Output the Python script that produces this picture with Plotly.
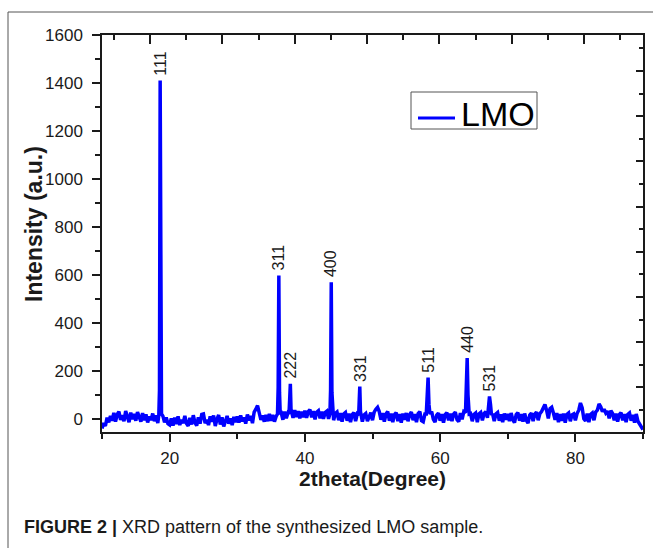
import numpy as np
import plotly.graph_objects as go

# Background counts on a 0.25 degree grid from 10 to 90 degrees 2theta
theta_start = 10.0
theta_step = 0.25
background = [
    # 10.00 - 14.75
    -40, -18, -30, 5, -15, 12, -8, 25, -12, 18, 30, -5, 15, -10, 32, 8, -14, 26, -2, 20,
    # 15.00 - 19.75
    -8, 28, 2, -12, 24, -6, 18, -15, 10, -5, 22, -10, 14, -18, 20, -8, 12, -15, 6, -20,
    # 20.00 - 24.75
    -25, 2, -28, 5, -22, 10, -26, -4, -18, 12, -20, -30, 4, -24, 15, -16, -28, 6, -20, 18,
    # 25.00 - 29.75
    20, -18, -4, -26, 10, -12, 14, -30, -2, 16, -24, 6, -32, -8, 12, -20, 2, -26, 8, -14,
    # 30.00 - 34.75
    10, -16, 14, -10, 6, -20, 18, -6, 12, -18, 28, 40, 55, 25, -4, 14, -12, 16, -10, 20,
    # 35.00 - 39.75
    -8, 16, -12, 10, 8, 12, 26, -4, 30, 2, 24, 20, 30, 4, 36, 8, 32, 2, 30, 6,
    # 40.00 - 44.75
    34, 4, 30, 38, 6, 32, -2, 28, 34, 2, 30, 0, 26, 32, 0, 20, 24, -6, 22, 28,
    # 45.00 - 49.75
    -6, 24, -12, 20, 26, -8, 22, -14, 18, 26, -10, 20, -4, 24, -12, 16, 22, -10, 14, 26,
    # 50.00 - 54.75
    -6, 28, 40, 48, 30, -4, 24, -12, 20, 30, -8, 22, -14, 18, 26, -10, 20, -16, 22, -4,
    # 55.00 - 59.75
    24, -10, 18, 28, -6, 20, -14, 22, 30, -8, -12, 20, 26, -6, 22, 30, -2, -14, 16, 24,
    # 60.00 - 64.75
    -8, 20, -16, 18, 26, -6, 22, -10, 20, 28, -4, -12, 24, -2, 30, 32, 20, -6, 22, -10,
    # 65.00 - 69.75
    18, 24, -14, 20, 26, -6, 22, 30, 4, 28, -4, 22, -10, 20, 26, -8, 18, -14, 22, -4,
    # 70.00 - 74.75
    20, -10, 24, -4, -16, 18, 26, -8, 20, -12, 22, -6, -18, 16, 24, -10, 20, 28, -6, 22,
    # 75.00 - 79.75
    30, 45, 60, 35, 2, 42, 48, 24, -4, 24, -14, 20, -8, 22, -16, 18, 24, -10, 16, 20,
    # 80.00 - 84.75
    -6, 22, 36, 66, 46, 0, -8, 22, -14, 18, 24, -6, 28, 36, 62, 50, 30, 40, 24, 32,
    # 85.00 - 89.75
    2, 34, 22, -6, 22, -12, 18, 26, -6, 20, -14, 18, 24, -8, 16, -16, 20, -10, -22, -30,
    # 90.00
    -45,
]

# Spinel LiMn2O4 reflections: Miller indices and sampled peak profiles
hkl = ["111", "311", "222", "400", "331", "511", "440", "531"]
peak_theta = [
    [18.40, 18.50, 18.60, 18.70, 18.80],
    [35.95, 36.05, 36.15, 36.25, 36.35],
    [37.65, 37.75, 37.85, 37.95],
    [43.70, 43.80, 43.90, 44.00, 44.10],
    [47.95, 48.05, 48.12, 48.22],
    [57.95, 58.10, 58.22, 58.35, 58.50],
    [63.75, 63.90, 64.00, 64.12, 64.30],
    [67.05, 67.20, 67.30, 67.45, 67.60],
]
peak_counts = [
    [15, 120, 1410, 150, 20],
    [20, 130, 597, 110, 25],
    [20, 80, 146, 40],
    [20, 120, 569, 110, 25],
    [15, 70, 134, 30],
    [20, 90, 172, 60, 20],
    [25, 130, 253, 100, 20],
    [20, 70, 93, 60, 15],
]

# Merge background and peak profiles into one sorted pattern
grid = theta_start + theta_step * np.arange(len(background))
bg = np.array(background, dtype=float)
keep = np.ones(len(grid), dtype=bool)
for th in peak_theta:
    keep &= ~((grid >= min(th)) & (grid <= max(th)))
all_theta = np.concatenate([grid[keep]] + [np.array(t) for t in peak_theta])
all_counts = np.concatenate([bg[keep]] + [np.array(c, dtype=float) for c in peak_counts])
order = np.argsort(all_theta)
two_theta = all_theta[order]
intensity = all_counts[order]

FONT = "Liberation Sans, Arial, sans-serif"
INK = "#1a1a1a"
BLUE = "#0000FF"

fig = go.Figure()
fig.add_trace(go.Scatter(
    x=two_theta, y=intensity, mode="lines", name="LMO",
    line=dict(color=BLUE, width=3.5), showlegend=False,
))
# empty trace carrying the top/right frame axes
fig.add_trace(go.Scatter(x=[None], y=[None], xaxis="x2", yaxis="y2",
                         showlegend=False, hoverinfo="skip"))

# hkl labels above each reflection
for label, th, cnt in zip(hkl, peak_theta, peak_counts):
    i = int(np.argmax(cnt))
    fig.add_annotation(
        x=th[i], y=cnt[i], text=label, textangle=-90, showarrow=False,
        xanchor="center", yanchor="bottom", yshift=3,
        font=dict(family=FONT, size=16, color=INK),
    )

# plot-area geometry in pixels (for paper-coordinate placement)
L, R, T, B = 102, 643, 35, 432
W, H = 653, 548
def px(x):
    return (x - L) / (R - L)
def py(y):
    return (B - y) / (B - T)

fig.add_annotation(x=px(372), y=py(478), xref="paper", yref="paper",
                   text="<b>2theta(Degree)</b>", showarrow=False,
                   xanchor="center", yanchor="middle",
                   font=dict(family=FONT, size=21, color=INK))
fig.add_annotation(x=px(34), y=py(224), xref="paper", yref="paper",
                   text="<b>Intensity (a.u.)</b>", showarrow=False, textangle=-90,
                   xanchor="center", yanchor="middle",
                   font=dict(family=FONT, size=23, color=INK))
fig.add_annotation(x=px(22), y=py(527), xref="paper", yref="paper",
                   text="<b>FIGURE 2 |</b> XRD pattern of the synthesized LMO sample.",
                   showarrow=False, xanchor="left", yanchor="middle",
                   font=dict(family=FONT, size=18, color=INK))

# legend box: frame, line sample and series name
fig.add_shape(type="rect", xref="paper", yref="paper",
              x0=px(411), x1=px(537), y0=py(129), y1=py(92),
              line=dict(color="#555555", width=1), fillcolor="white", layer="above")
fig.add_shape(type="line", xref="paper", yref="paper",
              x0=px(418), x1=px(455), y0=py(118), y1=py(118),
              line=dict(color=BLUE, width=3), layer="above")
fig.add_annotation(x=px(459), y=py(114), xref="paper", yref="paper",
                   text="LMO", showarrow=False, xanchor="left", yanchor="middle",
                   font=dict(family=FONT, size=34, color="black"))

# outer figure frame (top and left edges)
frame = dict(type="line", xref="paper", yref="paper",
             line=dict(color="#555555", width=1))
fig.add_shape(**frame, x0=px(8), x1=px(653), y0=py(12), y1=py(12))
fig.add_shape(**frame, x0=px(8), x1=px(8), y0=py(12), y1=py(548))

axis_common = dict(showgrid=False, zeroline=False, showline=True,
                   linecolor=INK, linewidth=1.5, tickcolor=INK, tickwidth=1.5)

fig.update_layout(
    width=W, height=H,
    margin=dict(l=L, r=W - R, t=T, b=H - B),
    paper_bgcolor="white", plot_bgcolor="white",
    font=dict(family=FONT, color=INK),
    showlegend=False,
    xaxis=dict(range=[10, 90], tick0=0, dtick=20, ticks="outside", ticklen=8,
               ticklabelstandoff=2,
               minor=dict(dtick=10, tick0=0, ticks="outside", ticklen=5,
                          tickcolor=INK, tickwidth=1.5),
               tickfont=dict(size=17, family=FONT, color=INK), **axis_common),
    yaxis=dict(range=[-55, 1600], tick0=0, dtick=200, ticks="outside", ticklen=8,
               ticklabelstandoff=6,
               minor=dict(dtick=100, tick0=0, ticks="outside", ticklen=5,
                          tickcolor=INK, tickwidth=1.5),
               tickfont=dict(size=17, family=FONT, color=INK), **axis_common),
    xaxis2=dict(overlaying="x", side="top", anchor="y2", range=[0.673, 15.63],
                tick0=0, dtick=2, ticks="inside", ticklen=9, showticklabels=False,
                minor=dict(dtick=1, tick0=0, ticks="inside", ticklen=5,
                           tickcolor=INK, tickwidth=1.5),
                **axis_common),
    yaxis2=dict(overlaying="y", side="right", anchor="x2", range=[0.027, 17.59],
                tick0=0, dtick=2, ticks="inside", ticklen=7, showticklabels=False,
                minor=dict(dtick=1, tick0=0, ticks="inside", ticklen=4,
                           tickcolor=INK, tickwidth=1.5),
                **axis_common),
)

fig.write_html("out.html")
